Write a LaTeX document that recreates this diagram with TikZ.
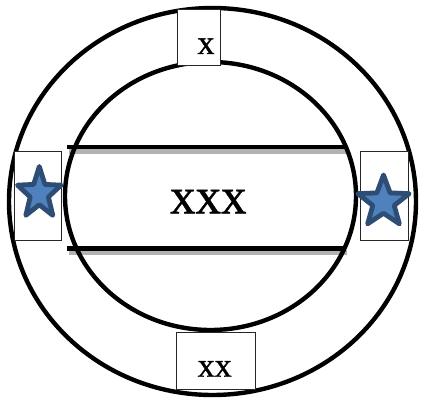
\documentclass[tikz,border=0pt]{standalone}
\usepackage{fontspec}
\setmainfont{Liberation Serif}
\newfontfamily\labfont[FakeBold=0.9]{Liberation Serif}
\usetikzlibrary{shapes.geometric}
\definecolor{starA}{HTML}{4F81BD}
\definecolor{starB}{HTML}{2E4D74}

\begin{document}
\begin{tikzpicture}[x=1pt,y=-1pt,
  ring/.style={line width=4.4pt},
  band/.style={line width=4.4pt},
  bandsh/.style={line width=4.4pt,draw=gray!60},
  slot/.style={draw=black!85,line width=0.9pt,fill=white,inner sep=0pt},
  lab/.style={inner sep=0pt,anchor=base,font=\labfont\fontsize{34}{34}\selectfont},
  starmark/.style={star,star points=5,star point ratio=2.4,minimum size=54pt,inner sep=0pt,
    fill=starA,draw=starB,line width=4.8pt,line join=round}]
\useasboundingbox (0,0) rectangle (421,398);
% band across the middle
\draw[bandsh] (69,151.4) -- (347,151.4);
\draw[bandsh] (69,252.7) -- (347,252.7);
\draw[band] (67,147.2) -- (345,147.2);
\draw[band] (67,248.4) -- (345,248.4);
% rings
\draw[ring] (210.5,196) ellipse [x radius=145.5, y radius=134];
\draw[ring] (212.5,201.5) ellipse [x radius=203.5, y radius=193.5];
% slots
\node[slot,minimum width=43.7pt,minimum height=56pt] (topslot) at (199,37.5) {};
\node[slot,minimum width=79pt,minimum height=56.3pt] (botslot) at (216.2,360.9) {};
\node[slot,minimum width=47pt,minimum height=88.3pt] (leftslot) at (37.5,195.9) {};
\node[slot,minimum width=47.6pt,minimum height=88.3pt] (rightslot) at (384.5,195.9) {};
% stars
\node[starmark,xscale=0.85] (leftstar) at (39.3,193.5) {};
\node[starmark] (rightstar) at (383.5,202) {};
% texts
\node[lab] (toplab) at (206,54) {x};
\node[lab] (botlab) at (214.7,376.7) {xx};
\node[lab,font=\labfont\fontsize{51}{51}\selectfont] (midlab) at (208.3,213.3) {xxx};
\end{tikzpicture}
\end{document}
